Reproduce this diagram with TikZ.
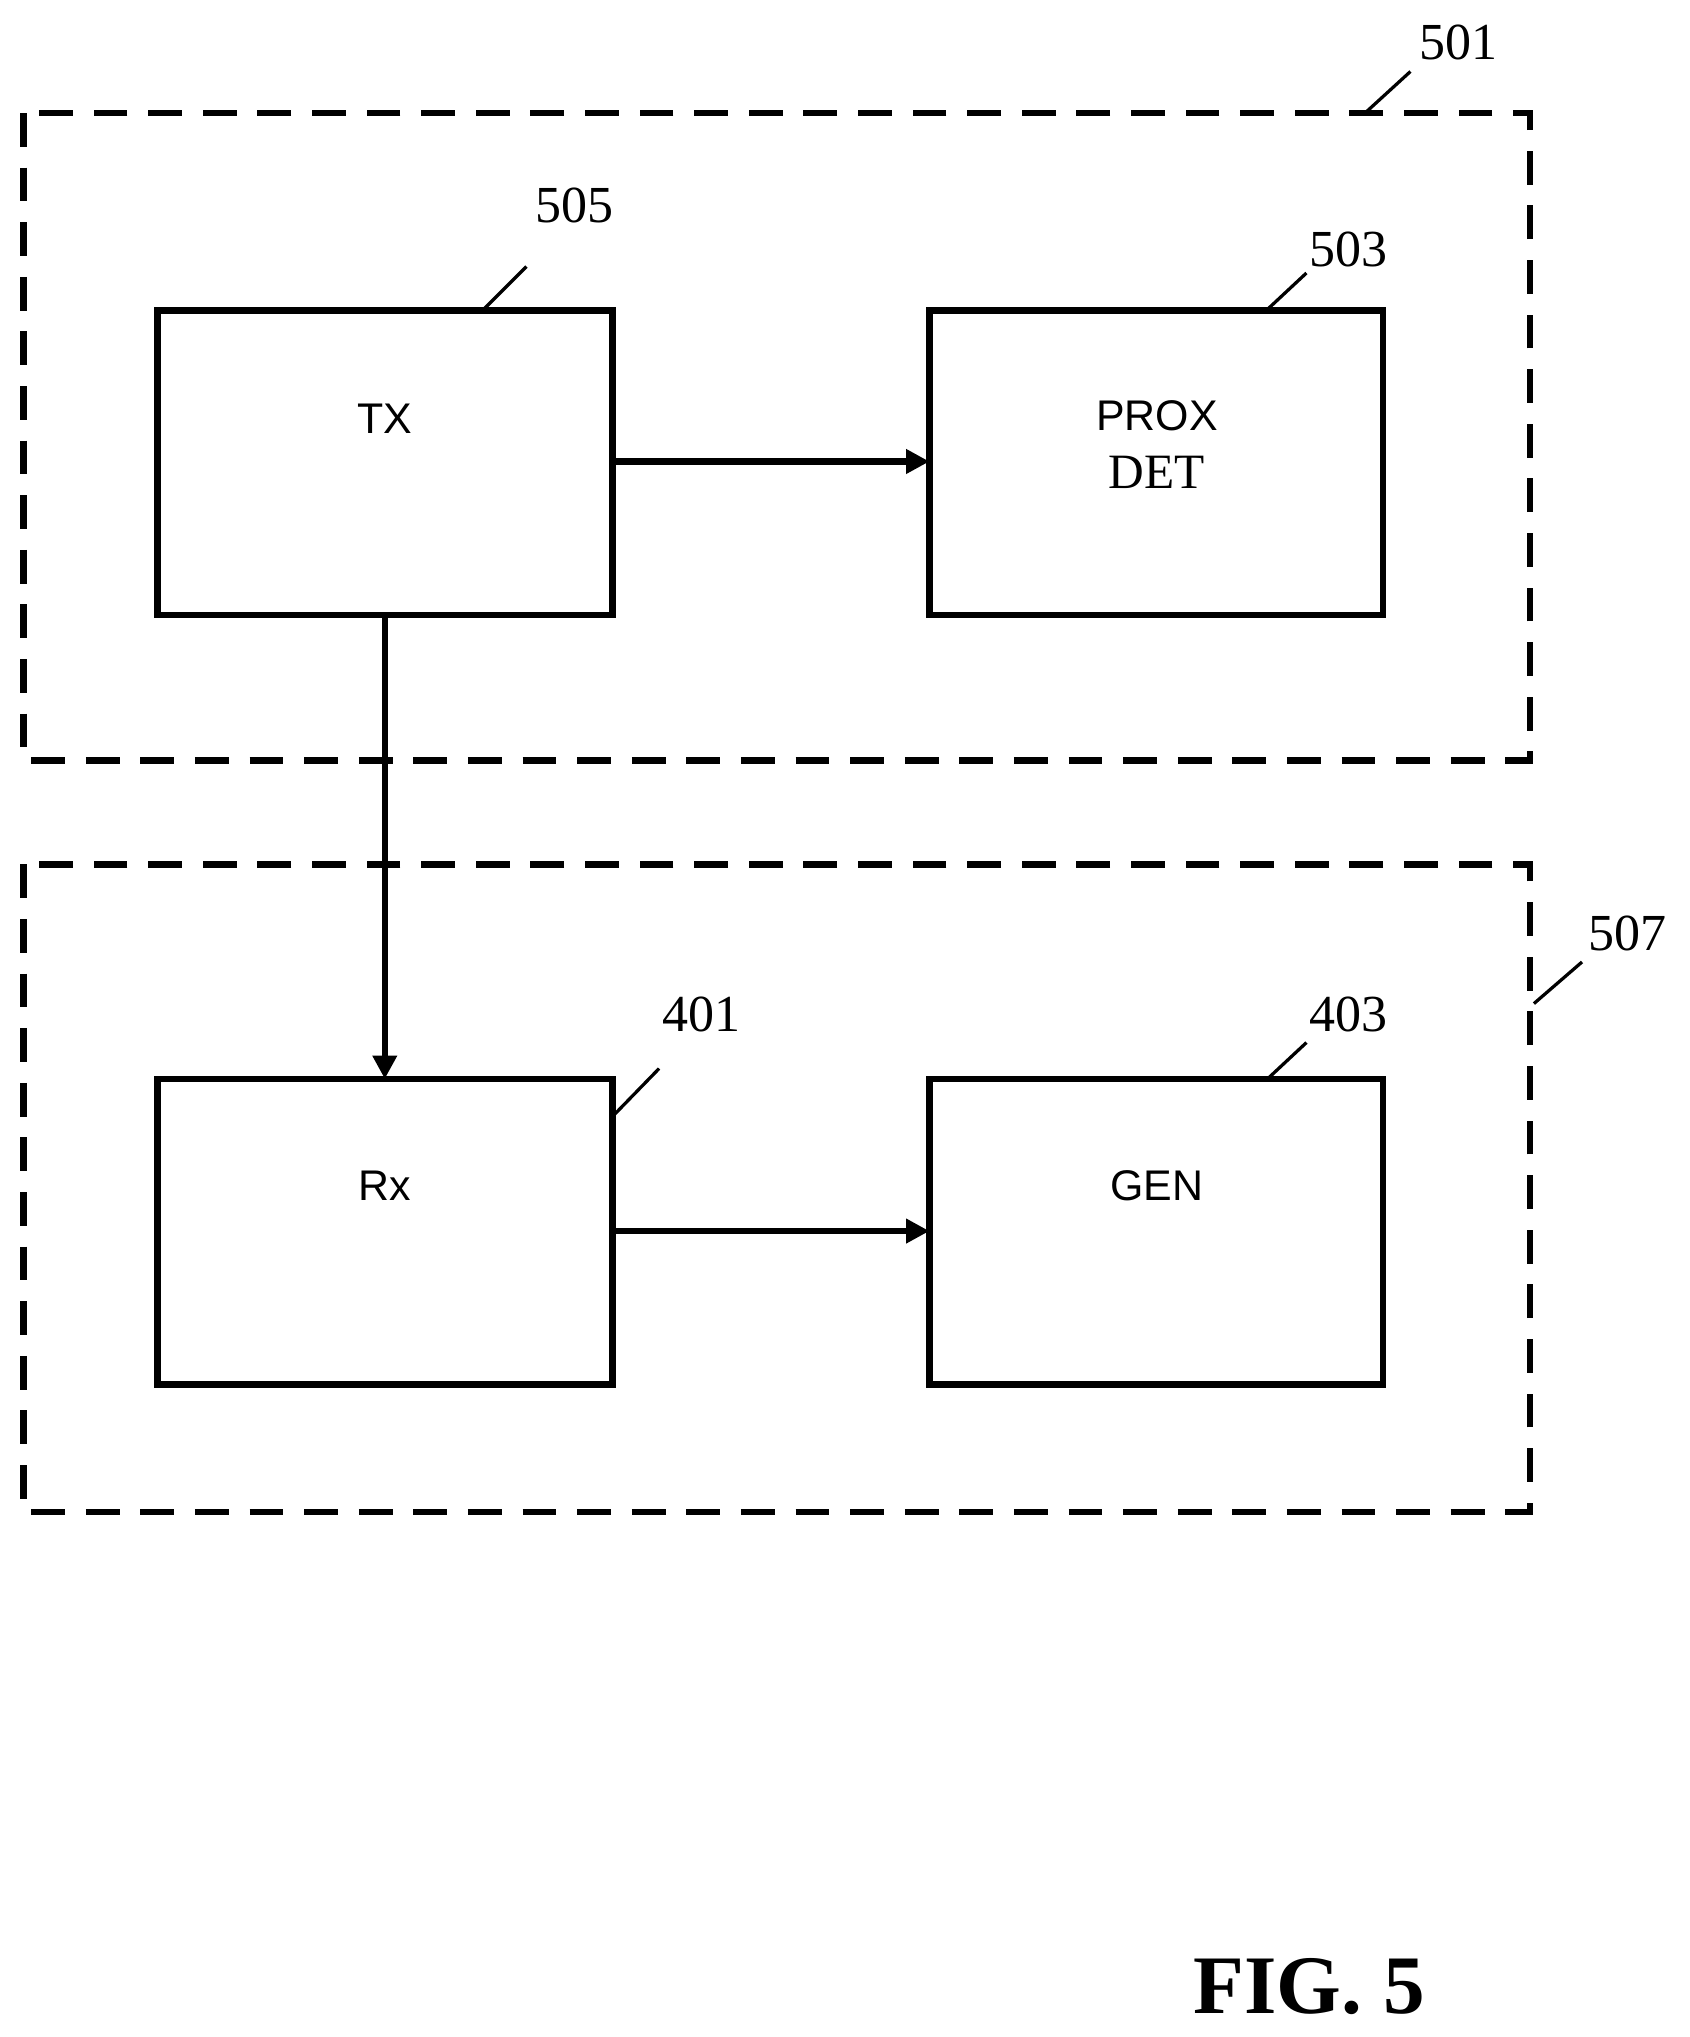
\documentclass[tikz,border=0pt]{standalone}
\usetikzlibrary{arrows.meta}
\usepackage{fontspec}
\setmainfont{Liberation Serif}
\setsansfont{Liberation Sans}
\begin{document}
\begin{tikzpicture}[x=1pt,y=-1pt,
  blk/.style={draw,line width=5pt},
  grp/.style={draw,line width=5pt,dash pattern=on 26pt off 16pt},
  arr/.style={line width=5pt,-{Triangle[length=18pt,width=18pt]}},
  lead/.style={line width=2.5pt},
  num/.style={font=\fontsize{40}{44}\selectfont},
  lbl/.style={font=\sffamily\fontsize{33}{38}\selectfont}]
\useasboundingbox (0,0) rectangle (1300,1567);
\draw[grp] (18,87) rectangle (1177,585);
\draw[grp] (18,665) rectangle (1177,1163);
\draw[blk] (121,239) rectangle (471,473);
\draw[blk] (715,239) rectangle (1064,473);
\draw[blk] (121,830) rectangle (471,1065);
\draw[blk] (715,830) rectangle (1064,1065);
\coordinate (txr) at (471,355); \coordinate (pdl) at (715,355);
\coordinate (txb) at (296,473); \coordinate (rxt) at (296,830);
\coordinate (rxr) at (471,947); \coordinate (genl) at (715,947);
\draw[arr] (txr) -- (pdl);
\draw[arr] (txb) -- (rxt);
\draw[arr] (rxr) -- (genl);
\node[lbl] (tx) at (296,322) {TX};
\node[lbl] (prox) at (890,320) {PROX};
\node[font=\fontsize{38}{42}\selectfont] (det) at (890,363) {DET};
\node[lbl] (rx) at (296,912) {Rx};
\node[lbl] (gen) at (890,912) {GEN};
\node[num] (n501) at (1122,33) {501};
\node[num] (n505) at (442,158) {505};
\node[num] (n503) at (1037,192) {503};
\node[num] (n507) at (1252,718) {507};
\node[num] (n401) at (540,780) {401};
\node[num] (n403) at (1037,780) {403};
\draw[lead] (1050,87) -- (1085,55);
\draw[lead] (372,238) -- (405,205);
\draw[lead] (975,238) -- (1005,210);
\draw[lead] (1180,772) -- (1217,740);
\draw[lead] (472,858) -- (507,822);
\draw[lead] (975,830) -- (1005,802);
\node[font=\bfseries\fontsize{64}{70}\selectfont] (fig) at (1007,1528) {FIG. 5};
\end{tikzpicture}
\end{document}
